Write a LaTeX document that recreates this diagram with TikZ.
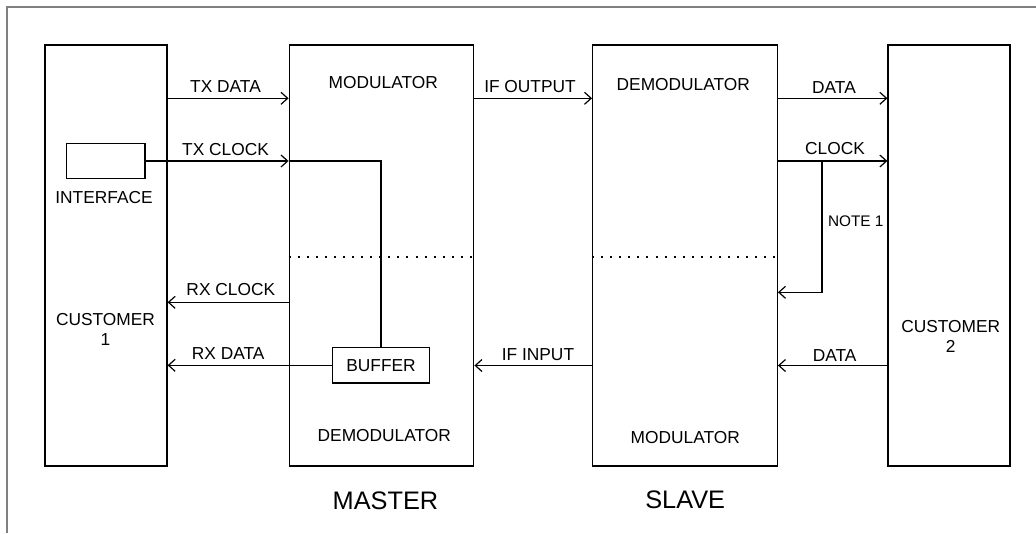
\documentclass[tikz,border=0pt]{standalone}
\usepackage{fontspec}
\setmainfont{Liberation Sans}
\usetikzlibrary{arrows.meta}
\begin{document}
\begin{tikzpicture}[x=0.75pt,y=-0.75pt,
  line width=0.9pt,
  sidebox/.style={draw, minimum width=91.5pt, minimum height=315.75pt, inner sep=0pt},
  modembox/.style={draw, minimum width=138.5pt, minimum height=315.75pt, inner sep=0pt},
  smallbox/.style={draw, minimum height=26.5pt, inner sep=0pt, font=\fontsize{13}{15}\selectfont},
  lbl/.style={inner sep=0pt, font=\fontsize{13}{15}\selectfont, align=center},
  note/.style={inner sep=0pt, font=\fontsize{11.5}{13}\selectfont},
  title/.style={inner sep=0pt, font=\fontsize{19}{22}\selectfont},
  arr/.style={-{Straight Barb[length=5pt,width=9pt]}},
  divider/.style={dash pattern=on 1.5pt off 5.3pt, line width=1.2pt}]
\useasboundingbox (0,0) rectangle (1036,533);

% outer frame edges
\draw[gray, line width=0.8pt] (1036,7) -- (7,7) -- (7,533);

% main units
\node[sidebox]  (c1) at (106,255.5) {};
\node[modembox] (ms) at (381.5,255.5) {};
\node[modembox] (sl) at (685,255.5) {};
\node[sidebox]  (c2) at (949,255.5) {};

% inner boxes
\node[smallbox, minimum width=58.7pt] (iface) at (105.9,161) {};
\node[smallbox, minimum width=72.5pt] (buf) at (381,365.3) {BUFFER};

% dividers between modulator and demodulator halves
\draw[divider] (ms.west |- 0,256.7) -- (ms.east |- 0,256.7);
\draw[divider] (sl.west |- 0,256.7) -- (sl.east |- 0,256.7);

% customer 1 side
\draw[arr] (c1.east |- 0,98.3) -- (ms.west |- 0,98.3);
\draw[arr] (iface.east) -- (ms.west |- iface.east);
\draw (ms.west |- iface.east) -| (buf.north);
\draw[arr] (ms.west |- 0,302.3) -- (c1.east |- 0,302.3);
\draw[arr] (buf.west) -- (c1.east |- buf.west);

% link between master and slave
\draw[arr] (ms.east |- 0,98.3) -- (sl.west |- 0,98.3);
\draw[arr] (sl.west |- 0,365.5) -- (ms.east |- 0,365.5);

% customer 2 side
\draw[arr] (sl.east |- 0,98.3) -- (c2.west |- 0,98.3);
\draw[arr] (sl.east |- 0,161) -- (c2.west |- 0,161);
\coordinate (tap) at (822,161);
\draw[arr] (tap) |- (sl.east |- 0,292.3);
\draw[arr] (c2.west |- 0,365.5) -- (sl.east |- 0,365.5);

% labels
\node[lbl] (ltxd)  at (225.5,87)   {TX DATA};
\node[lbl] (ltxc)  at (225.5,149.3) {TX CLOCK};
\node[lbl] (lif)   at (104,197.3)  {INTERFACE};
\node[lbl] (lrxc)  at (230.8,289.7) {RX CLOCK};
\node[lbl] (lrxd)  at (228.2,353.3) {RX DATA};
\node[lbl] (lc1)   at (105.5,329.7) {CUSTOMER\\1};
\node[lbl] (lmmod) at (383.3,83)   {MODULATOR};
\node[lbl] (lmdem) at (384.3,436)  {DEMODULATOR};
\node[lbl] (lifo)  at (530,87)     {IF OUTPUT};
\node[lbl] (lifi)  at (538,354.7)  {IF INPUT};
\node[lbl] (lsdem) at (683.3,85)   {DEMODULATOR};
\node[lbl] (lsmod) at (685.3,437.5) {MODULATOR};
\node[lbl] (ld1)   at (834,87.5)   {DATA};
\node[lbl] (lclk)  at (835,148.3)  {CLOCK};
\node[note] (lnote) at (855.8,220.8) {NOTE 1};
\node[lbl] (ld2)   at (834.7,355.7) {DATA};
\node[lbl] (lc2)   at (950.7,336.7) {CUSTOMER\\2};
\node[title] (lmaster) at (385.5,500.5) {MASTER};
\node[title] (lslave)  at (685.2,499.7) {SLAVE};
\end{tikzpicture}
\end{document}
